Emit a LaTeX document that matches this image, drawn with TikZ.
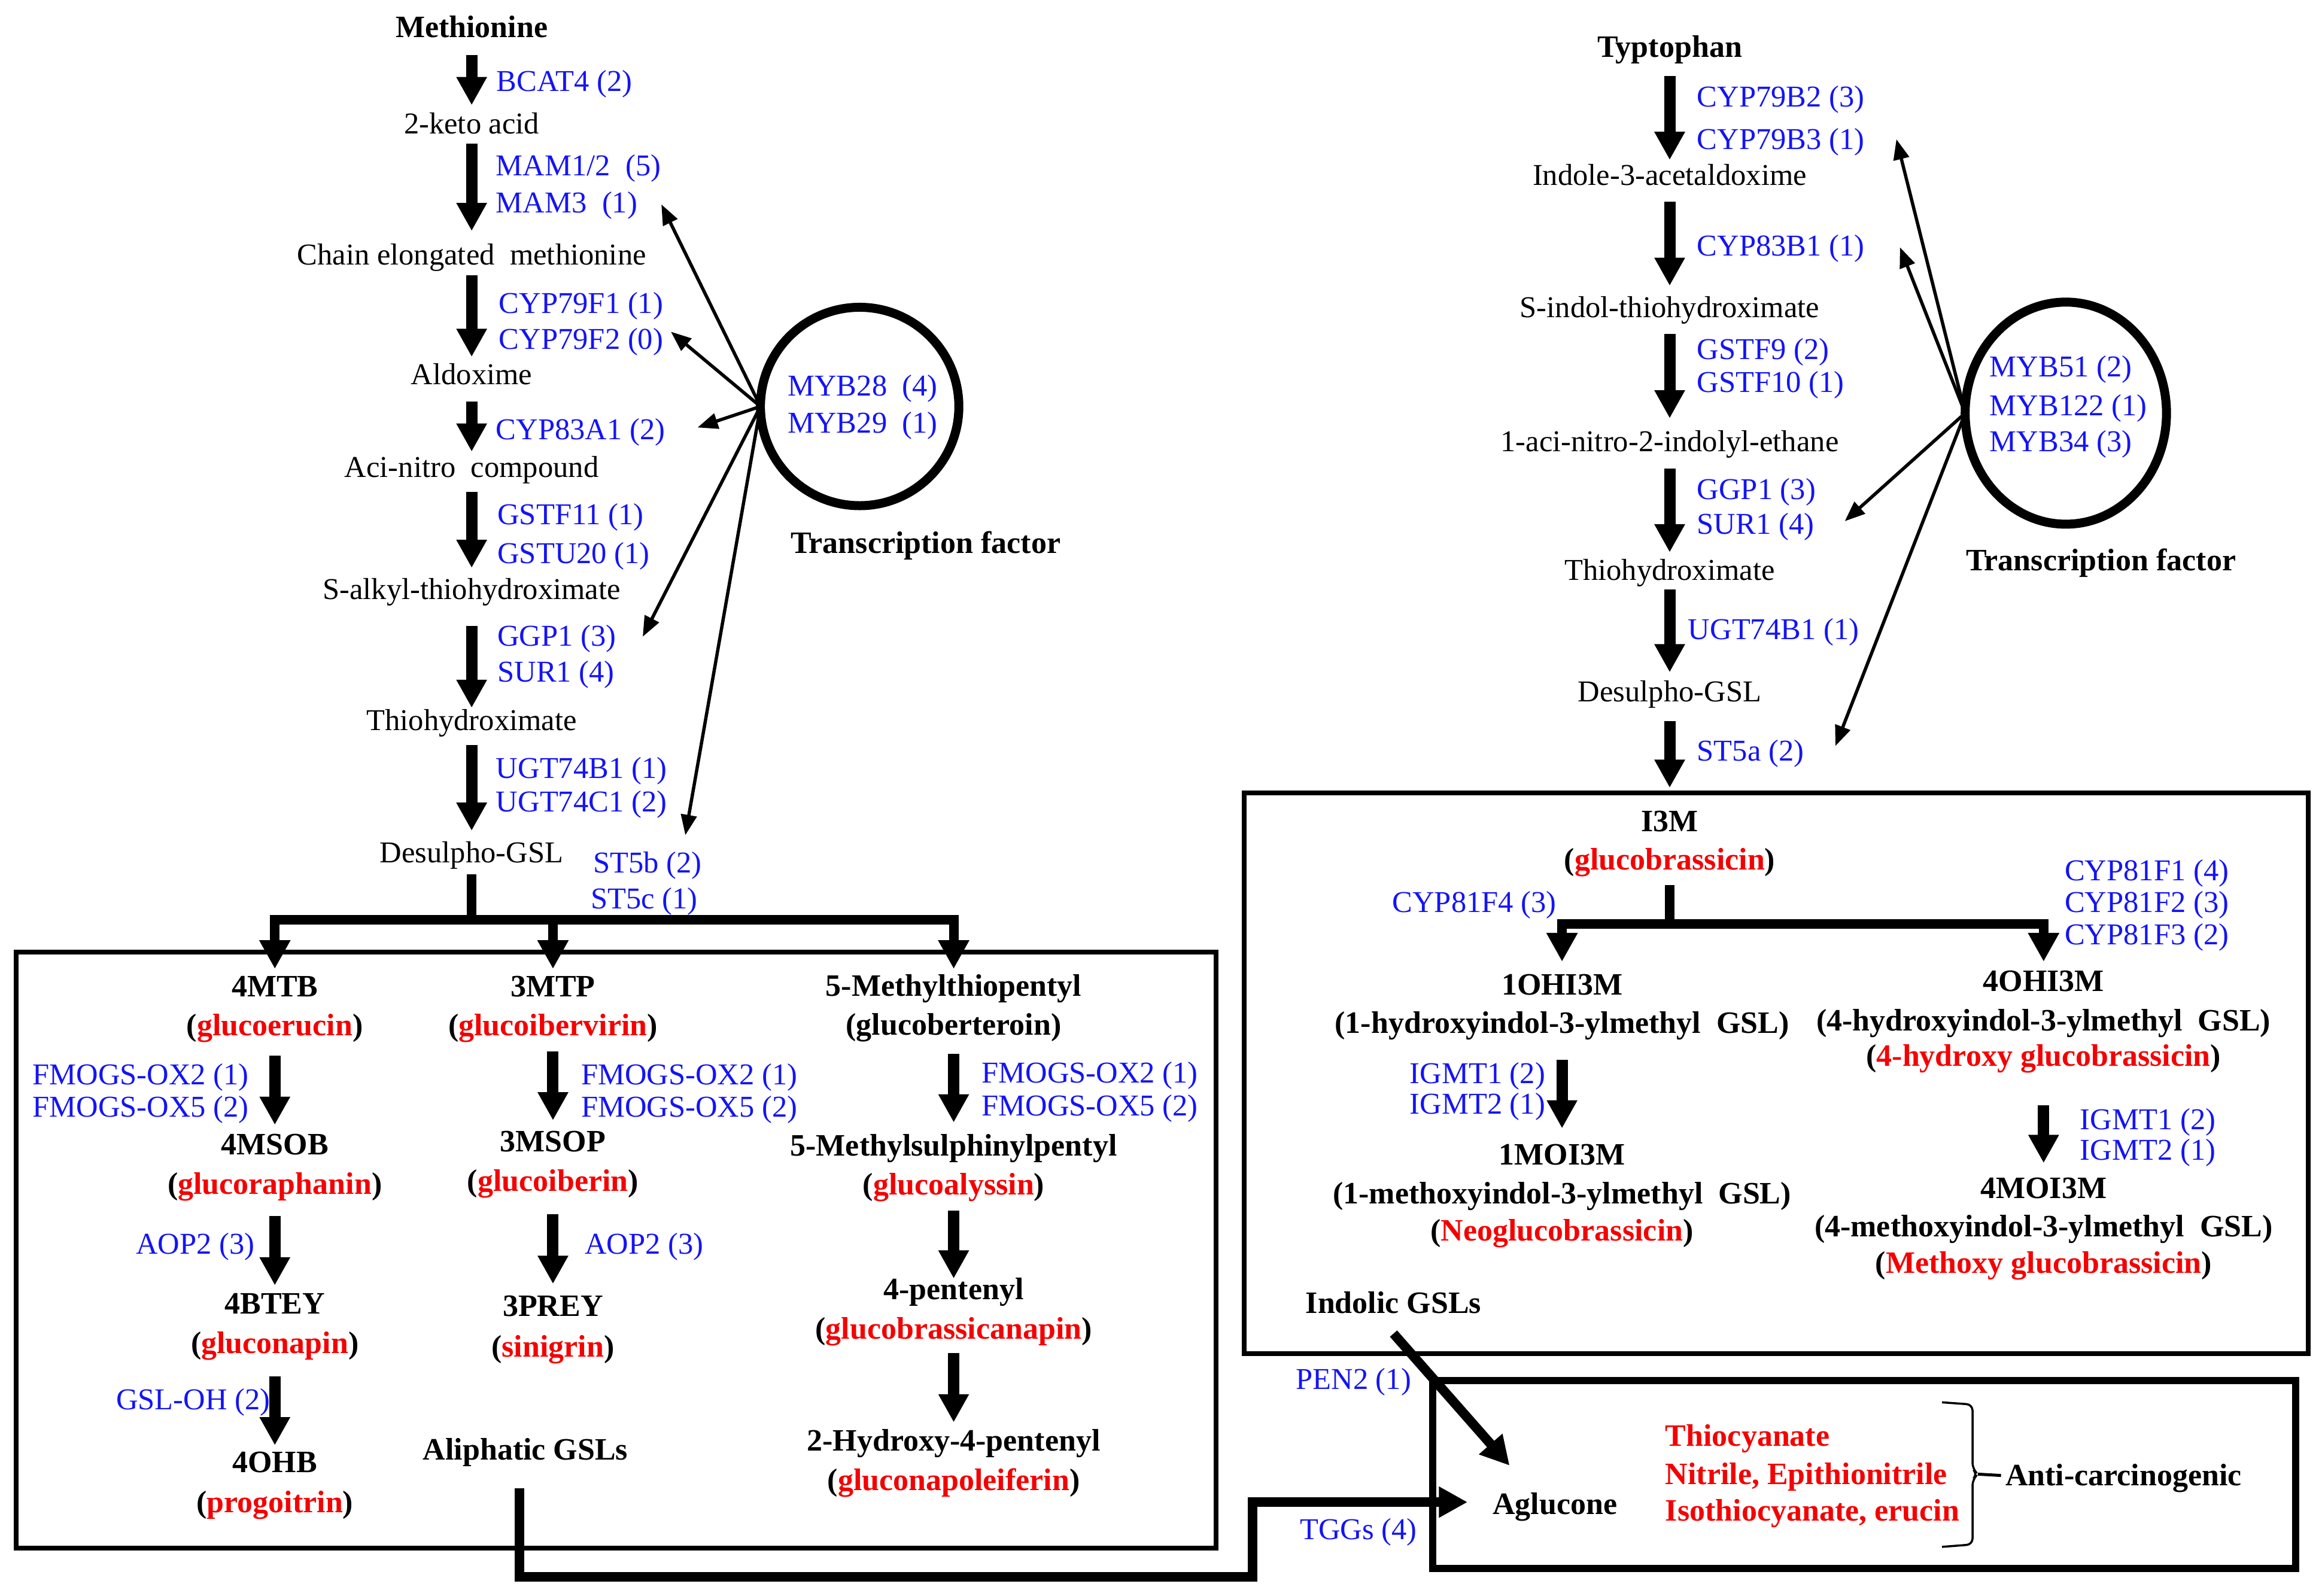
\documentclass[tikz,border=0pt]{standalone}
\usepackage{fontspec}
\setmainfont{Liberation Serif}
\usetikzlibrary{arrows.meta,shapes.geometric}
\definecolor{lblue}{RGB}{20,20,245}
\definecolor{lred}{RGB}{245,0,0}
\newdimen\uu \uu=0.024745cm
\newcommand\rtxt[1]{\textcolor{lred}{#1}}
\newcommand\pathar[4]{\draw[parr] ([yshift=-#3*\uu]#1.center) -- ([yshift=#4*\uu]#2.center);}
\begin{document}
\begin{tikzpicture}[x=0.024745cm, y=-0.024745cm,
 every node/.style={inner sep=0pt, outer sep=0pt, text height=11pt, text depth=1.5pt},
 cmp/.style={font=\fontsize{14.4}{17}\selectfont},
 bcm/.style={font=\fontsize{14.8}{17}\selectfont\bfseries},
 lab/.style={font=\fontsize{14.4}{17}\selectfont, text=lblue, anchor=west},
 labr/.style={lab, anchor=east},
 labc/.style={lab, anchor=center},
 redl/.style={bcm, text=lred, anchor=west},
 parr/.style={line width=0.19cm, -{Triangle[width=0.48cm,length=0.47cm]}},
 thk/.style={line width=0.16cm},
 thka/.style={thk, -{Triangle[width=0.49cm,length=0.48cm]}},
 tarr/.style={line width=0.055cm, -{Triangle[width=0.26cm,length=0.34cm]}},
 frame/.style={draw, line width=0.08cm}
]
\fill[white] (0,0) rectangle (1568,1077.8);
\useasboundingbox (0,0) rectangle (1568,1077.8);

% ---------- frames ----------
\draw[frame] (11,643) rectangle (821,1045.4);
\draw[frame] (840.2,535.3) rectangle (1558.5,914);
\draw[line width=0.12cm] (967.5,932.3) rectangle (1550,1059);

% ---------- left pathway ----------
\node[bcm] (met) at (318.5,18.6) {Methionine};
\node[cmp] (keto) at (318.5,83.7) {2-keto acid};
\node[cmp] (chain) at (318.5,172) {Chain elongated\ \ methionine};
\node[cmp] (aldox) at (318.5,253) {Aldoxime};
\node[cmp] (aci) at (318.5,315.5) {Aci-nitro\ \ compound};
\node[cmp] (salk) at (318.5,398) {S-alkyl-thiohydroximate};
\node[cmp] (thio) at (318.5,486.6) {Thiohydroximate};
\node[cmp] (desul) at (318.5,576) {Desulpho-GSL};

\pathar{met}{keto}{18.4}{12.7}
\pathar{keto}{chain}{13.3}{16}
\pathar{chain}{aldox}{14}{12}
\pathar{aldox}{aci}{18}{10.5}
\pathar{aci}{salk}{16.5}{14.5}
\pathar{salk}{thio}{24.7}{8.6}
\pathar{thio}{desul}{16.4}{15}

\node[lab] (l1) at (335.4,54.8) {BCAT4 (2)};
\node[lab] (l2a) at (335,112) {MAM1/2\ \ (5)};
\node[lab] (l2b) at (335,137) {MAM3\ \ (1)};
\node[lab] (l3a) at (337,205) {CYP79F1 (1)};
\node[lab] (l3b) at (337,229) {CYP79F2 (0)};
\node[lab] (l4) at (335,290) {CYP83A1 (2)};
\node[lab] (l5a) at (336,347.6) {GSTF11 (1)};
\node[lab] (l5b) at (336,373.6) {GSTU20 (1)};
\node[lab] (l6a) at (336,429.7) {GGP1 (3)};
\node[lab] (l6b) at (336,453.6) {SUR1 (4)};
\node[lab] (l7a) at (335,518.8) {UGT74B1 (1)};
\node[lab] (l7b) at (335,541.5) {UGT74C1 (2)};
\node[lab] (l8a) at (400.6,582.7) {ST5b (2)};
\node[lab] (l8b) at (399,607) {ST5c (1)};

% transcription factor (left)
\node[circle, draw, line width=0.15cm, minimum size=3.316cm] (tf1) at (580.5,274.5) {};
\node[lab] (m28) at (532,260.6) {MYB28\ \ (4)};
\node[lab] (m29) at (532,285.8) {MYB29\ \ (1)};
\node[bcm] (tfl1) at (625,367) {Transcription factor};
\coordinate (ta1) at (446.6,138);
\coordinate (ta2) at (453,224);
\coordinate (ta3) at (471,288.7);
\coordinate (ta4) at (434,430);
\coordinate (ta5) at (462.8,564);
\foreach \t in {ta1,ta2,ta3,ta4,ta5} \draw[tarr] (tf1.west) -- (\t);

% ---------- right pathway ----------
\node[bcm] (typ) at (1127.5,32) {Typtophan};
\node[cmp] (indole) at (1127.5,118.3) {Indole-3-acetaldoxime};
\node[cmp] (sindol) at (1127.5,207.7) {S-indol-thiohydroximate};
\node[cmp] (aci2) at (1127.5,298) {1-aci-nitro-2-indolyl-ethane};
\node[cmp] (thio2) at (1127.5,385) {Thiohydroximate};
\node[cmp] (desul2) at (1127.5,467) {Desulpho-GSL};

\pathar{typ}{indole}{19.5}{10.3}
\pathar{indole}{sindol}{17.7}{14.7}
\pathar{sindol}{aci2}{17.7}{15.5}
\pathar{aci2}{thio2}{18.6}{12}
\pathar{thio2}{desul2}{13}{13}

\node[lab] (r1a) at (1146,65.4) {CYP79B2 (3)};
\node[lab] (r1b) at (1146,94) {CYP79B3 (1)};
\node[lab] (r2) at (1146,166) {CYP83B1 (1)};
\node[lab] (r3a) at (1146,236) {GSTF9 (2)};
\node[lab] (r3b) at (1146,258) {GSTF10 (1)};
\node[lab] (r4a) at (1146,330.5) {GGP1 (3)};
\node[lab] (r4b) at (1146,354) {SUR1 (4)};
\node[lab] (r5) at (1140,425) {UGT74B1 (1)};
\node[lab] (r6) at (1146,507) {ST5a (2)};

\node[ellipse, draw, line width=0.15cm, minimum width=3.365cm, minimum height=3.712cm] (tf2) at (1395,279) {};
\node[lab] (m51) at (1343.6,247.7) {MYB51 (2)};
\node[lab] (m122) at (1343.6,273.8) {MYB122 (1)};
\node[lab] (m34) at (1343.6,298) {MYB34 (3)};
\node[bcm] (tfl2) at (1418.7,378.5) {Transcription factor};
\coordinate (tb1) at (1280.6,94);
\coordinate (tb2) at (1283,167);
\coordinate (tb3) at (1245.7,352);
\coordinate (tb4) at (1239.4,503.8);
\foreach \t in {tb1,tb2,tb3,tb4} \draw[tarr] (tf2.west) -- (\t);

% ---------- aliphatic box ----------
\node[bcm] (mtb) at (185.6,666.4) {4MTB};
\node[bcm] (gerc) at (185.6,692.5) {(\rtxt{glucoerucin})};
\node[bcm] (msob) at (185.6,773) {4MSOB};
\node[bcm] (graph) at (185.6,799.6) {(\rtxt{glucoraphanin})};
\node[bcm] (btey) at (185.6,880.5) {4BTEY};
\node[bcm] (gnap) at (185.6,907) {(\rtxt{gluconapin})};
\node[bcm] (ohb) at (185.6,987.6) {4OHB};
\node[bcm] (prog) at (185.6,1014.7) {(\rtxt{progoitrin})};

\node[bcm] (mtp) at (373.4,666.4) {3MTP};
\node[bcm] (gibv) at (373.4,692.5) {(\rtxt{glucoibervirin})};
\node[bcm] (msop) at (373.4,771) {3MSOP};
\node[bcm] (gib) at (373.4,797.5) {(\rtxt{glucoiberin})};
\node[bcm] (prey) at (373.4,882) {3PREY};
\node[bcm] (sin) at (373.4,909.4) {(\rtxt{sinigrin})};
\node[bcm] (aliph) at (354.8,979.2) {Aliphatic GSLs};

\node[bcm] (mtpe) at (644,665.8) {5-Methylthiopentyl};
\node[bcm] (gbert) at (644,692) {(glucoberteroin)};
\node[bcm] (mspe) at (644,774) {5-Methylsulphinylpentyl};
\node[bcm] (galy) at (644,800) {(\rtxt{glucoalyssin})};
\node[bcm] (pent) at (644,871) {4-pentenyl};
\node[bcm] (gbrn) at (644,897.4) {(\rtxt{glucobrassicanapin})};
\node[bcm] (hyd) at (644,973) {2-Hydroxy-4-pentenyl};
\node[bcm] (gnpl) at (644,999.6) {(\rtxt{gluconapoleiferin})};

\pathar{gerc}{msob}{20.5}{13.4}
\pathar{graph}{btey}{21.4}{12.5}
\pathar{gnap}{ohb}{22.6}{11.6}
\pathar{gibv}{msop}{17.5}{14.4}
\pathar{gib}{prey}{22.5}{15}
\pathar{gbert}{mspe}{19.5}{16}
\pathar{galy}{pent}{17.4}{7.6}
\pathar{gbrn}{hyd}{16.2}{12.5}

\node[labr] (fa1) at (168,725.6) {FMOGS-OX2 (1)};
\node[labr] (fa2) at (168,747.6) {FMOGS-OX5 (2)};
\node[labr] (aop1) at (172,840) {AOP2 (3)};
\node[lab] (gsloh) at (78.5,945) {GSL-OH (2)};
\node[lab] (fb1) at (392.4,725.6) {FMOGS-OX2 (1)};
\node[lab] (fb2) at (392.4,747.6) {FMOGS-OX5 (2)};
\node[lab] (aop2) at (395,840) {AOP2 (3)};
\node[lab] (fc1) at (663,724.4) {FMOGS-OX2 (1)};
\node[lab] (fc2) at (663,746.7) {FMOGS-OX5 (2)};

% branching from Desulpho-GSL
\coordinate (jl) at (318.5,621);
\draw[thk] ([yshift=-14.6*\uu]desul.center) -- (jl);
\draw[thka] (jl) -| ([yshift=12.1*\uu]mtb.center);
\draw[thka] (jl) -| ([yshift=12.1*\uu]mtp.center);
\draw[thka] (jl) -| ([yshift=11.5*\uu]mtpe.center);

% ---------- indolic box ----------
\node[bcm] (i3m) at (1127.5,554.6) {I3M};
\node[bcm] (gbr) at (1127.5,580.7) {(\rtxt{glucobrassicin})};
\pathar{desul2}{i3m}{20}{22.6}

\node[bcm] (ohi1) at (1054.8,665.3) {1OHI3M};
\node[bcm] (ohi1b) at (1054.8,691) {(1-hydroxyindol-3-ylmethyl\ \ GSL)};
\node[bcm] (moi1) at (1054.8,779.8) {1MOI3M};
\node[bcm] (moi1b) at (1054.8,806.2) {(1-methoxyindol-3-ylmethyl\ \ GSL)};
\node[bcm] (moi1c) at (1054.8,831.2) {(\rtxt{Neoglucobrassicin})};
\node[bcm] (ohi4) at (1380,662.8) {4OHI3M};
\node[bcm] (ohi4b) at (1380,689.2) {(4-hydroxyindol-3-ylmethyl\ \ GSL)};
\node[bcm] (ohi4c) at (1380,713.2) {(\rtxt{4-hydroxy glucobrassicin})};
\node[bcm] (moi4) at (1380,802.7) {4MOI3M};
\node[bcm] (moi4b) at (1380,828.4) {(4-methoxyindol-3-ylmethyl\ \ GSL)};
\node[bcm] (moi4c) at (1380,853) {(\rtxt{Methoxy glucobrassicin})};
\node[bcm] (indol) at (941,880.2) {Indolic GSLs};

\pathar{ohi1b}{moi1}{24.6}{17.8}
\pathar{ohi4c}{moi4}{33.4}{17.3}

\node[labr] (c4) at (1051,609.2) {CYP81F4 (3)};
\node[lab] (c1) at (1394.3,587.8) {CYP81F1 (4)};
\node[lab] (c2) at (1394.3,609.2) {CYP81F2 (3)};
\node[lab] (c3) at (1394.3,631.1) {CYP81F3 (2)};
\node[lab] (ig1) at (952,725) {IGMT1 (2)};
\node[lab] (ig2) at (952,745.6) {IGMT2 (1)};
\node[lab] (ig3) at (1404.7,756.2) {IGMT1 (2)};
\node[lab] (ig4) at (1404.7,776.6) {IGMT2 (1)};

\coordinate (jr) at (1127.5,624);
\draw[thk] ([yshift=-16.9*\uu]gbr.center) -- (jr);
\draw[thka] (jr) -| ([yshift=15.9*\uu]ohi1.center);
\draw[thka] (jr) -| ([yshift=13.4*\uu]ohi4.center);

% ---------- aglucone ----------
\node[bcm] (aglu) at (1050,1015.8) {Aglucone};
\node[redl] (thc) at (1124.6,970) {Thiocyanate};
\node[redl] (nit) at (1124.6,995.7) {Nitrile, Epithionitrile};
\node[redl] (iso) at (1124.6,1020.4) {Isothiocyanate, erucin};
\node[bcm] (anti) at (1434,996.4) {Anti-carcinogenic};
\coordinate (brt) at (1311.4,947);
\coordinate (brb) at (1311.4,1044.6);
\coordinate (brtip) at (1335.5,995.5);
\draw[line width=0.035cm, rounded corners=0.1cm] (brt) -- (1332,948.5) -- (1332,992) -- (brtip) -- (1332,999) -- (1332,1043) -- (brb);
\draw[line width=0.05cm] (brtip) -- ([xshift=-3*\uu]anti.west);

\node[labc] (pen2) at (914,931.6) {PEN2 (1)};
\node[labc] (tggs) at (917.4,1032.7) {TGGs (4)};

\coordinate (agtip) at (1019.4,989.7);
\draw[thka] ([yshift=-20.4*\uu]indol.center) -- (agtip);
\coordinate (lowrun) at (846,1065);
\coordinate (agin) at (991,1014.4);
\draw[thka] ([xshift=-4.1*\uu, yshift=-25.8*\uu]aliph.center) |- (lowrun) |- (agin);
\end{tikzpicture}
\end{document}
